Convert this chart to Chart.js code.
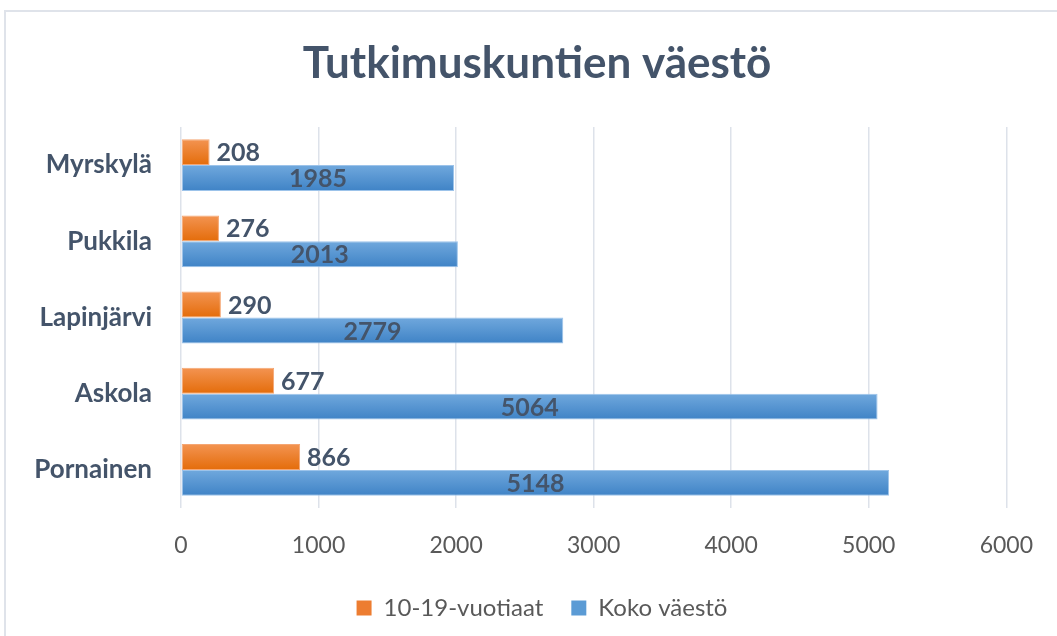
<!DOCTYPE html>
<html>
<head>
<meta charset="utf-8">
<script src="https://cdn.jsdelivr.net/npm/chart.js@4/dist/chart.umd.min.js"></script>
<style>
  html,body{margin:0;padding:0;background:#fff;}
  #wrap{position:relative;width:1057px;height:636px;overflow:hidden;}
  #frame{position:absolute;left:4px;top:10px;width:1100px;height:700px;border-top:2px solid #dfe3ea;border-left:2px solid #dfe3ea;box-sizing:border-box;pointer-events:none;}
  canvas{position:absolute;left:0;top:0;}
</style>
</head>
<body>
<div id="wrap">
  <canvas id="c" width="1057" height="636"></canvas>
  <div id="frame"></div>
</div>
<script>
'use strict';
// ── DATA ──────────────────────────────────────────────────────
const otsikko = 'Tutkimuskuntien väestö';
const kunnat = ['Myrskylä','Pukkila','Lapinjärvi','Askola','Pornainen'];
const nuoret = [208, 276, 290, 677, 866];
const koko   = [1985, 2013, 2779, 5064, 5148];
const xTicks = [0, 1000, 2000, 3000, 4000, 5000, 6000];

const FONT = 'Lato, "Noto Sans", sans-serif';
const DARK = '#44546a';
const GREY = '#595959';

// top/bottom colours for the Excel-ish bar gradient
const grads = [
  ['#f39452', '#e46c0a'],
  ['#70a8dd', '#3f83c6'],
];

// ── PLUGINS ───────────────────────────────────────────────────
// title is centred on the whole picture, not on the plot box
const titlePlugin = {
  id: 'titlePlugin',
  afterDraw(chart) {
    const ctx = chart.ctx;
    ctx.save();
    ctx.font = 'bold 44px ' + FONT;
    ctx.fillStyle = DARK;
    ctx.textAlign = 'center';
    ctx.textBaseline = 'middle';
    ctx.fillText(otsikko, 537, 64);
    ctx.restore();
  }
};

// legend in the reference sits a bit right of the plot centre
const legendShift = {
  id: 'legendShift',
  afterLayout(chart) {
    const lg = chart.legend;
    if (!lg) return;
    lg.left += 38;
    lg.right += 38;
  }
};

const barGradient = {
  id: 'barGradient',
  beforeDatasetsDraw(chart) {
    const ctx = chart.ctx;
    chart.data.datasets.forEach((ds, di) => {
      const meta = chart.getDatasetMeta(di);
      meta.data.forEach(el => {
        const top = el.y - el.height / 2, bot = el.y + el.height / 2;
        const g = ctx.createLinearGradient(0, top, 0, bot);
        g.addColorStop(0, grads[di][0]);
        g.addColorStop(1, grads[di][1]);
        el.options = Object.assign({}, el.options, { backgroundColor: g });
      });
    });
  }
};

const valueLabels = {
  id: 'valueLabels',
  afterDatasetsDraw(chart) {
    const ctx = chart.ctx;
    ctx.save();
    ctx.font = 'bold 25px ' + FONT;
    ctx.fillStyle = DARK;
    ctx.textBaseline = 'middle';
    chart.data.datasets.forEach((ds, di) => {
      const meta = chart.getDatasetMeta(di);
      meta.data.forEach((el, i) => {
        const txt = String(ds.data[i]);
        if (di === 0) {
          ctx.textAlign = 'left';
          ctx.fillText(txt, el.x + 7, el.y + 1);
        } else {
          ctx.textAlign = 'center';
          ctx.fillText(txt, (el.base + el.x) / 2, el.y + 1);
        }
      });
    });
    ctx.restore();
  }
};

// ── CHART ─────────────────────────────────────────────────────
new Chart(document.getElementById('c'), {
  type: 'bar',
  data: {
    labels: kunnat,
    datasets: [
      { label: '10-19-vuotiaat', data: nuoret, backgroundColor: '#ed7d31', borderColor: '#f5a673', borderWidth: 1, borderSkipped: false },
      { label: 'Koko väestö', data: koko, backgroundColor: '#5b9bd5', borderColor: '#9cc3ea', borderWidth: 1, borderSkipped: false },
    ]
  },
  options: {
    indexAxis: 'y',
    responsive: false,
    animation: false,
    categoryPercentage: 0.68,
    barPercentage: 1.0,
    layout: { padding: { left: 0, right: 49, top: 127, bottom: 6 } },
    plugins: {
      title: { display: false },
      legend: {
        position: 'bottom',
        labels: {
          color: GREY,
          font: { family: FONT, size: 24 },
          boxWidth: 15, boxHeight: 15,
          padding: 28,
          generateLabels(chart) {
            return chart.data.datasets.map((ds, i) => ({
              text: ds.label,
              fillStyle: ds.backgroundColor,
              strokeStyle: ds.backgroundColor,
              lineWidth: 0,
              fontColor: GREY,
              datasetIndex: i
            }));
          }
        }
      },
      tooltip: { enabled: false }
    },
    scales: {
      x: {
        min: 0, max: 6000,
        afterBuildTicks: s => { s.ticks = xTicks.map(v => ({ value: v })); },
        afterFit: s => { s.height = 60; },
        grid: { color: '#dde2ea', lineWidth: 1.5, drawTicks: false },
        border: { display: false },
        ticks: { color: GREY, font: { family: FONT, size: 23 }, padding: 24, callback: v => String(v) }
      },
      y: {
        afterFit: s => { s.width = 181; },
        grid: { display: false },
        border: { display: false },
        ticks: { color: DARK, font: { family: FONT, size: 26, weight: 'bold' }, padding: 21 }
      }
    }
  },
  plugins: [legendShift, barGradient, valueLabels, titlePlugin]
});
</script>
</body>
</html>
